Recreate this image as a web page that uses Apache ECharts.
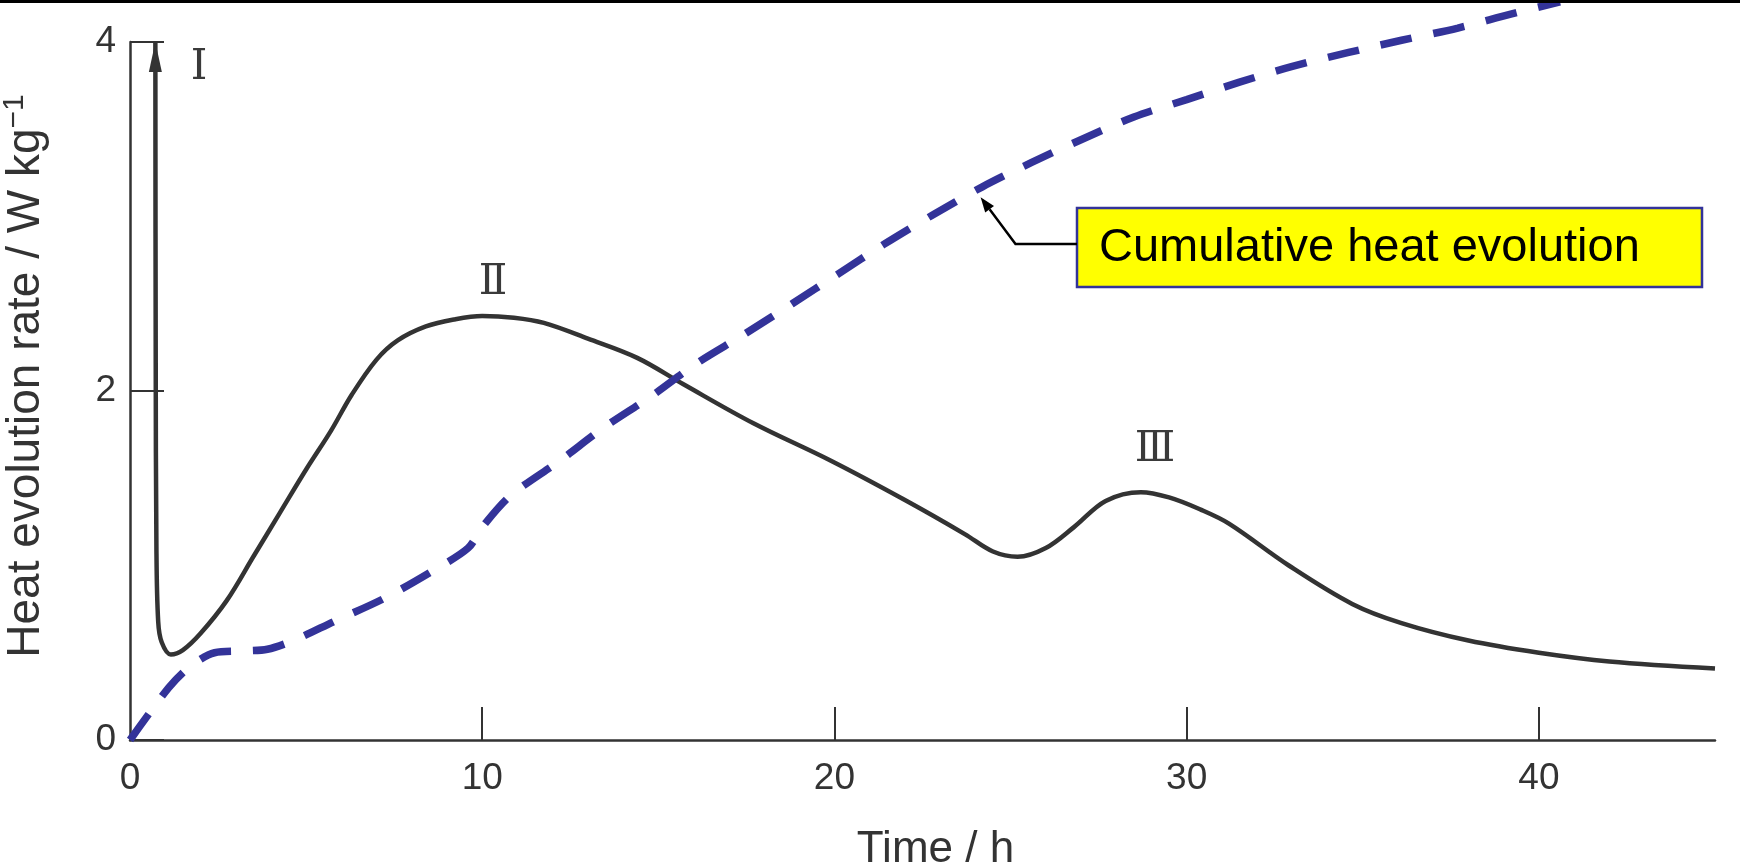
<!DOCTYPE html>
<html>
<head>
<meta charset="utf-8">
<title>Heat evolution of cement hydration</title>
<script src="https://cdn.jsdelivr.net/npm/echarts@6/dist/echarts.min.js"></script>
<style>
  html, body { margin: 0; padding: 0; background: #ffffff; }
  #chart { width: 1740px; height: 868px; }
</style>
</head>
<body>
<div id="chart"></div>
<script>
// Time axis (h) and rate axis (W kg^-1) tick values
const timeLabelValues = [0, 10, 20, 30, 40];
const timeTickValues = [10, 20, 30, 40];
const rateTickValues = [0, 2, 4];

// Heat evolution rate [time h, rate W/kg]; first point is the tip of the off-scale peak I
const heatRate = [
  [0.72, 4.0], [0.73, 2.2], [0.75, 1.1], [0.8, 0.68], [0.9, 0.56], [1.16, 0.49],
  [1.5, 0.515], [2.0, 0.61], [2.75, 0.80], [3.5, 1.05], [4.25, 1.30], [5.0, 1.55],
  [5.7, 1.77], [6.3, 1.98], [7.0, 2.18], [7.6, 2.29], [8.4, 2.37], [9.2, 2.41],
  [10.0, 2.43], [10.9, 2.42], [11.75, 2.39], [13.0, 2.30], [14.4, 2.19], [15.7, 2.04],
  [17.7, 1.815], [19.9, 1.60], [22.0, 1.375], [23.7, 1.18], [24.5, 1.08], [25.2, 1.05],
  [26.0, 1.10], [26.8, 1.22], [27.7, 1.37], [28.7, 1.42], [29.5, 1.39], [30.4, 1.32],
  [31.2, 1.24], [32.9, 1.00], [34.7, 0.78], [36.1, 0.67], [38.0, 0.57], [40.0, 0.50],
  [42.0, 0.45], [45.0, 0.41]
];

// Cumulative heat evolution, drawn on the same scale (runs past the top of the frame)
const cumulativeHeat = [
  [0, 0], [1.1, 0.30], [1.7, 0.42], [2.4, 0.50], [3.2, 0.51], [3.9, 0.52], [4.7, 0.575],
  [5.8, 0.68], [7.2, 0.81], [8.6, 0.97], [9.6, 1.10], [10.0, 1.22], [10.8, 1.40],
  [12.2, 1.60], [13.45, 1.79], [14.8, 1.97], [16.1, 2.16], [17.4, 2.32], [18.8, 2.50],
  [20.1, 2.67], [21.4, 2.84], [22.8, 3.01], [24.2, 3.17], [25.6, 3.31], [27.0, 3.44],
  [28.5, 3.57], [30.0, 3.67], [31.5, 3.77], [33.0, 3.86], [34.6, 3.94], [36.1, 4.01],
  [37.7, 4.08], [39.2, 4.16], [40.6, 4.23]
];

// Peak numerals and where they sit [time h, rate W/kg]
const peakNames = ['Ⅰ', 'Ⅱ', 'Ⅲ'];
const peakAnchors = [[1.96, 3.85], [10.31, 2.62], [29.1, 1.66]];

// Callout text and the point on the cumulative curve it points at
const calloutText = 'Cumulative heat evolution';
const calloutTarget = [24.15, 3.11];

const INK = '#333333';
const BLUE = '#333399';
const SANS = '"Liberation Sans", Arial, Helvetica, sans-serif';

const rateSeriesData = heatRate.map((p, i) => i === 0
  ? { value: p, symbol: 'triangle', symbolSize: [13, 30], symbolOffset: [0, 15],
      itemStyle: { color: INK } }
  : { value: p });

const chart = echarts.init(document.getElementById('chart'), null, { renderer: 'canvas' });

chart.setOption({
  animation: false,
  backgroundColor: '#ffffff',
  grid: { left: 130, right: 25, top: 42, bottom: 128, containLabel: false, outerBoundsMode: 'none' },
  xAxis: {
    type: 'value', min: 0, max: 45, interval: 10,
    name: 'Time / h', nameLocation: 'middle', nameGap: 88,
    nameTextStyle: { fontFamily: SANS, fontSize: 44, color: INK, padding: [0, 0, 0, 26] },
    axisLine: { show: true, onZero: false, lineStyle: { color: INK, width: 2.5 } },
    axisTick: { show: true, inside: true, length: 33, customValues: timeTickValues,
      lineStyle: { color: INK, width: 2 } },
    axisLabel: { show: true, customValues: timeLabelValues, margin: 20,
      fontFamily: SANS, fontSize: 37, color: INK },
    splitLine: { show: false }
  },
  yAxis: {
    type: 'value', min: 0, max: 4, interval: 2,
    name: '{a|Heat evolution rate / W kg}{s|−1}', nameLocation: 'middle', nameGap: 78,
    nameRotate: 90,
    nameTextStyle: {
      color: INK, padding: [0, 0, 0, 30],
      rich: {
        a: { fontFamily: SANS, fontSize: 46, color: INK, lineHeight: 52 },
        s: { fontFamily: SANS, fontSize: 30, color: INK, verticalAlign: 'top', lineHeight: 52 }
      }
    },
    axisLine: { show: true, onZero: false, lineStyle: { color: INK, width: 2.5 } },
    axisTick: { show: true, inside: true, length: 34, lineStyle: { color: INK, width: 2 } },
    axisLabel: { show: true, margin: 14, fontFamily: SANS, fontSize: 37, color: INK },
    splitLine: { show: false }
  },
  series: [
    {
      name: 'Heat evolution rate',
      type: 'line',
      data: rateSeriesData,
      smooth: 0.35,
      symbol: 'none',
      showSymbol: true,
      lineStyle: { color: INK, width: 4.5 },
      itemStyle: { color: INK },
      z: 2
    },
    {
      name: 'Cumulative heat evolution',
      type: 'line',
      data: cumulativeHeat,
      smooth: 0.3,
      symbol: 'none',
      clip: false,
      lineStyle: { color: BLUE, width: 7.5, type: [32, 22], cap: 'butt' },
      z: 3
    }
  ]
});

// Annotations: peak numerals, callout box with its leader arrow, top rule
function drawAnnotations() {
  const elements = [];

  peakNames.forEach((txt, i) => {
    const [px, py] = chart.convertToPixel({ gridIndex: 0 }, peakAnchors[i]);
    elements.push({
      type: 'text', x: px, y: py, z: 10,
      style: { text: txt, fill: '#3a3a3a', font: '42px "DejaVu Serif", "Liberation Serif", serif',
        textAlign: 'center', textVerticalAlign: 'middle' }
    });
  });

  // callout box
  const box = { x: 1077, y: 208, w: 625, h: 79 };
  elements.push({
    type: 'rect', z: 10,
    shape: { x: box.x, y: box.y, width: box.w, height: box.h },
    style: { fill: '#ffff00', stroke: BLUE, lineWidth: 2.5 }
  });
  elements.push({
    type: 'text', z: 11, x: box.x + 22, y: box.y + box.h / 2 + 1,
    style: { text: calloutText, fill: '#000000', font: '47px ' + SANS,
      textAlign: 'left', textVerticalAlign: 'middle' }
  });

  // leader arrow from the box to the cumulative curve
  const [tx, ty] = chart.convertToPixel({ gridIndex: 0 }, calloutTarget);
  const corner = [1015.5, box.y + 36];
  const dx = tx - corner[0], dy = ty - corner[1];
  const len = Math.sqrt(dx * dx + dy * dy);
  const ux = dx / len, uy = dy / len;
  const headLen = 15, headHalf = 5.5;
  const bx = tx - ux * headLen, by = ty - uy * headLen;
  elements.push({
    type: 'polyline', z: 10,
    shape: { points: [[box.x, corner[1]], corner, [bx, by]] },
    style: { stroke: '#000000', lineWidth: 2.5, fill: null }
  });
  elements.push({
    type: 'polygon', z: 10,
    shape: { points: [[tx, ty], [bx - uy * headHalf, by + ux * headHalf], [bx + uy * headHalf, by - ux * headHalf]] },
    style: { fill: '#000000' }
  });

  // dark rule along the top edge
  elements.push({
    type: 'rect', z: 12,
    shape: { x: 0, y: 0, width: 1740, height: 3 },
    style: { fill: '#000000' }
  });

  chart.setOption({ graphic: { elements: elements } });
}

drawAnnotations();
</script>
</body>
</html>
